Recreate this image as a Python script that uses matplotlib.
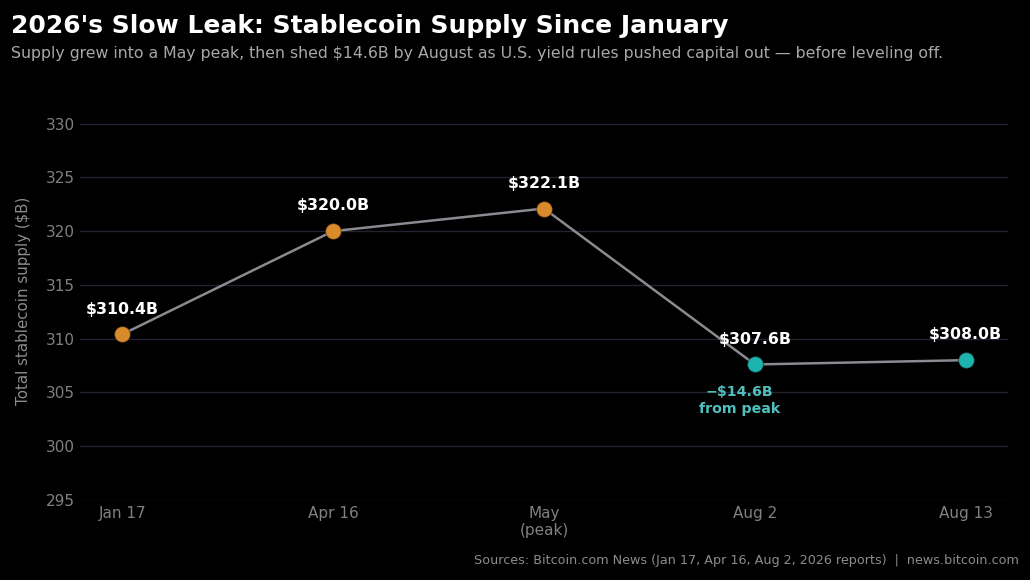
import matplotlib
matplotlib.use("Agg")
import matplotlib.pyplot as plt

plt.rcParams["font.family"] = ["DejaVu Sans"]

# data
dates = ["Jan 17", "Apr 16", "May\n(peak)", "Aug 2", "Aug 13"]
supply = [310.4, 320.0, 322.1, 307.6, 308.0]
labels = ["$310.4B", "$320.0B", "$322.1B", "$307.6B", "$308.0B"]
phase = ["up", "up", "up", "down", "down"]
yticks = [295, 300, 305, 310, 315, 320, 325, 330]
drop_note = "\u2212$14.6B\nfrom peak"

BG = "#000000"
ORANGE = "#d98a2b"
TEAL = "#1fb3b0"
colors = {"up": ORANGE, "down": TEAL}

fig = plt.figure(figsize=(10.3, 5.8), dpi=100, facecolor=BG)
ax = fig.add_axes([0.0777, 0.138, 0.9009, 0.686], facecolor=BG)

x = list(range(len(dates)))
ax.plot(x, supply, color="#8a8a90", lw=1.8, zorder=2)
for xi, yi, ph in zip(x, supply, phase):
    ax.plot(xi, yi, "o", ms=11.5, color=colors[ph], mec="#00000055", mew=1, zorder=3)

for xi, yi, lab in zip(x, supply, labels):
    ax.annotate(lab, (xi, yi), xytext=(0, 15), textcoords="offset points",
                ha="center", va="baseline", color="white", fontsize=11.3, fontweight="bold")

# drop from peak, under the Aug 2 point
ax.annotate(drop_note, (3, supply[3]), xytext=(-11, -15),
            textcoords="offset points", ha="center", va="top", color="#4fbfbd",
            fontsize=10.2, fontweight="bold", linespacing=1.28)

ax.set_xlim(-0.2, 4.2)
ax.set_ylim(295, 332)
ax.set_yticks(yticks)
ax.set_xticks(x)
ax.set_xticklabels(dates)
ax.grid(axis="y", color="#22232f", lw=1)
ax.set_axisbelow(True)
for s in ax.spines.values():
    s.set_visible(False)
ax.tick_params(length=0, colors="#808080", labelsize=11, pad=4)
ax.set_ylabel("Total stablecoin supply ($B)", color="#8c8c8c", fontsize=10.8, labelpad=10)

fig.text(0.011, 0.943, "2026's Slow Leak: Stablecoin Supply Since January",
         color="white", fontsize=18, fontweight="bold", va="baseline")
fig.text(0.011, 0.9, "Supply grew into a May peak, then shed $14.6B by August as U.S. yield rules "
         "pushed capital out \u2014 before leveling off.", color="#a8a8a8", fontsize=11.3, va="baseline")
fig.text(0.989, 0.027, "Sources: Bitcoin.com News (Jan 17, Apr 16, Aug 2, 2026 reports)  |  news.bitcoin.com",
         color="#8c8c8c", fontsize=9.2, ha="right", va="baseline")

fig.savefig("out.png", dpi=100, facecolor=BG)
